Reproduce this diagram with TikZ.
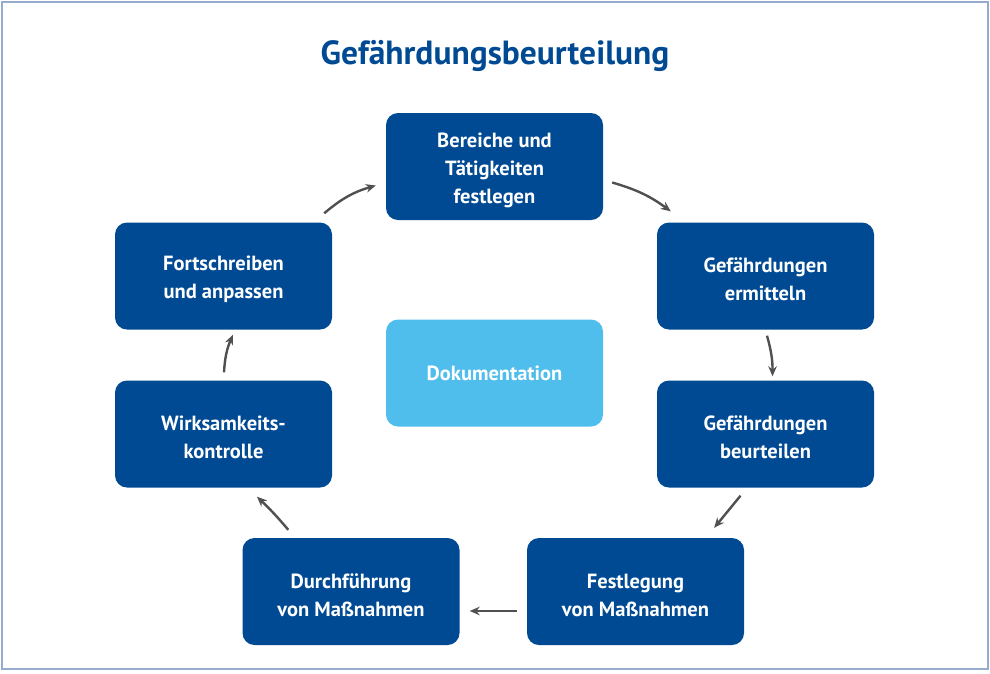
\documentclass[tikz,border=0pt]{standalone}
\usepackage{fontspec}
\setmainfont{PT Sans}
\usetikzlibrary{arrows.meta,calc}
\definecolor{dblue}{RGB}{0,74,148}
\definecolor{lblue}{RGB}{80,190,236}
\definecolor{agray}{RGB}{80,80,80}
\definecolor{framec}{RGB}{150,172,205}
\newcommand{\pushdown}{\rule{0pt}{22pt}}
\begin{document}
\begin{tikzpicture}[x=1pt,y=-1pt,
  stepbox/.style={rectangle,rounded corners=12pt,fill=dblue,text=white,
    minimum width=217pt,minimum height=107pt,align=center,inner sep=0pt,
    font=\bfseries\fontsize{20.5}{28}\selectfont},
  docbox/.style={stepbox,fill=lblue},
  flow/.style={draw=agray,line width=2.4pt,-{Stealth[length=10pt,width=8.5pt]}},
  titletext/.style={text=dblue,font=\bfseries\fontsize{33.5}{38}\selectfont}]
\useasboundingbox (0,0) rectangle (990,673);
\draw[framec,line width=2pt] (1.5,1.5) rectangle (987.5,668.5);
\node[titletext] (title) at (495,56) {Gefährdungsbeurteilung};
\node[stepbox] (top) at (494.5,166.5) {\pushdown Bereiche und\\Tätigkeiten\\festlegen};
\node[stepbox] (erm) at (765.5,276) {\pushdown Gefährdungen\\ermitteln};
\node[stepbox] (beu) at (765.5,434) {\pushdown Gefährdungen\\beurteilen};
\node[stepbox] (fest) at (635.5,591.5) {\pushdown Festlegung\\von Maßnahmen};
\node[stepbox] (durch) at (351,591.5) {\pushdown Durchführung\\von Maßnahmen};
\node[stepbox] (wirk) at (223.5,434) {\pushdown Wirksamkeits-\\kontrolle};
\node[stepbox] (fort) at (223.5,276) {\pushdown Fortschreiben\\und anpassen};
\node[docbox] (doc) at (494.5,373) {Dokumentation};
\draw[flow] ($(top.east)+(9,16)$) to[bend left=10] ($(erm.north west)+(14,-11)$);
\draw[flow] ($(erm.south)+(1.5,6)$) to[bend left=8] ($(beu.north)+(7,-4)$);
\draw[flow] ($(beu.south)+(-25,8)$) -- ($(fest.north east)+(-30,-10)$);
\draw[flow] ($(fest.west)+(-10,19.5)$) -- ($(durch.east)+(10,19.5)$);
\draw[flow] ($(durch.north west)+(46,-8)$) to[bend right=3] ($(wirk.south)+(33.5,9)$);
\draw[flow] ($(wirk.north)+(0.5,-8)$) to[bend left=10] ($(fort.south)+(9.5,5)$);
\draw[flow] ($(fort.north east)+(-8,-9)$) to[bend left=12] ($(top.west)+(-10,19)$);
\end{tikzpicture}
\end{document}
